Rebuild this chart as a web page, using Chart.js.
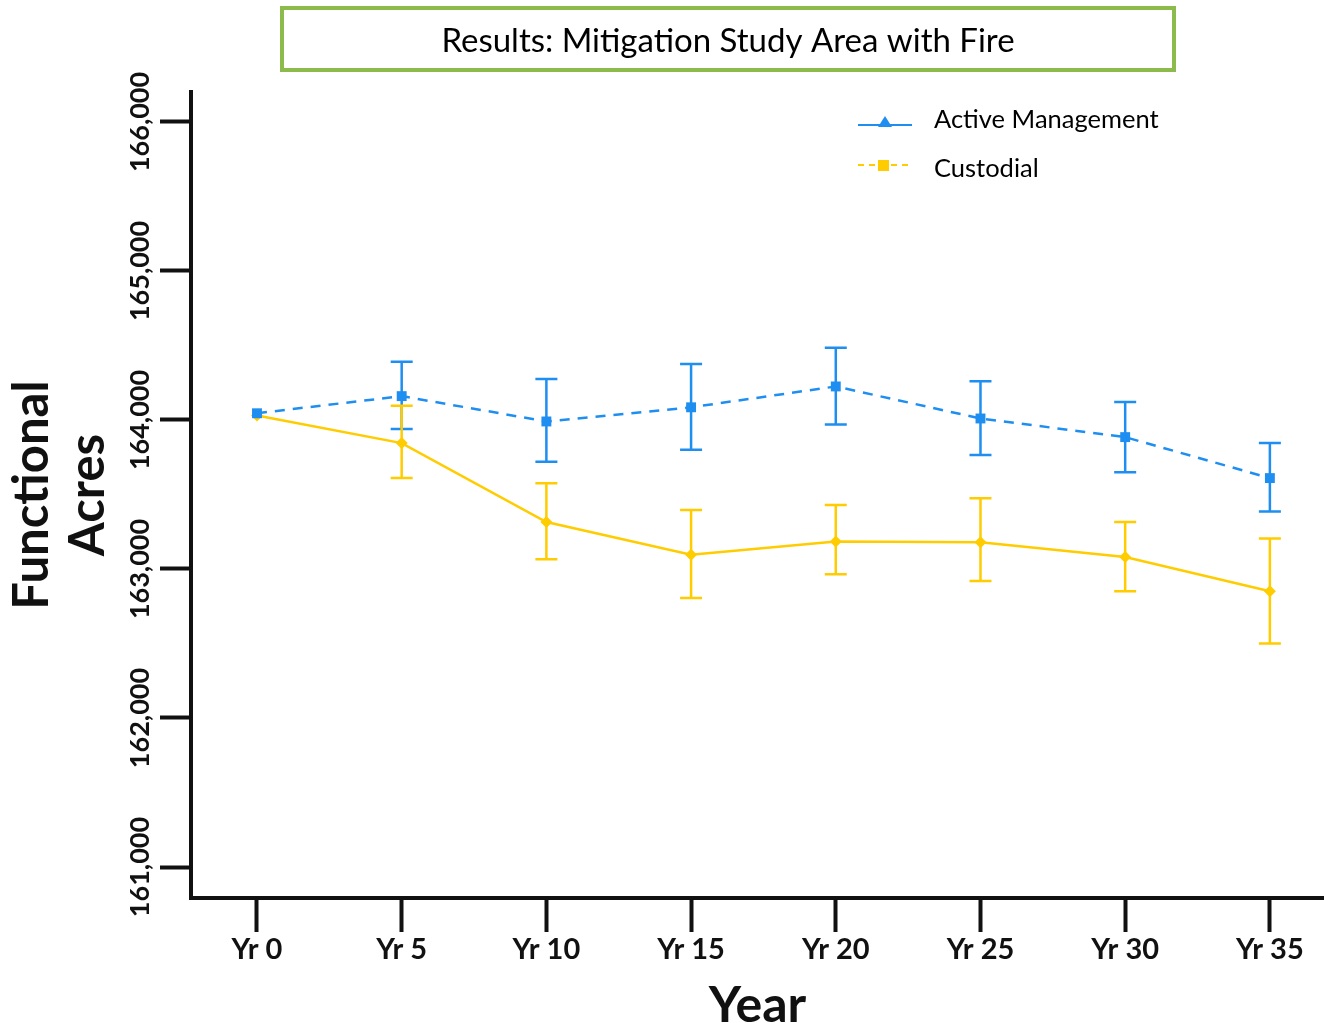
<!DOCTYPE html>
<html>
<head>
<meta charset="utf-8">
<script src="https://cdn.jsdelivr.net/npm/chart.js@4.4.0/dist/chart.umd.min.js"></script>
<style>
    html, body { margin: 0; padding: 0; background: #fff; }
    canvas { display: block; }
</style>
</head>
<body>
<canvas id="grafico" width="1324" height="1023"></canvas>
<script>
// dados
const years = [0, 5, 10, 15, 20, 25, 30, 35];
const yearLabels = ['Yr 0', 'Yr 5', 'Yr 10', 'Yr 15', 'Yr 20', 'Yr 25', 'Yr 30', 'Yr 35'];
const yTicks = [161000, 162000, 163000, 164000, 165000, 166000];

const activeMean = [164045, 164160, 163990, 164085, 164225, 164010, 163885, 163610];
const activeHigh = [164045, 164390, 164275, 164375, 164485, 164260, 164120, 163845];
const activeLow  = [164045, 163940, 163720, 163800, 163970, 163765, 163650, 163385];

const custodialMean = [164030, 163845, 163315, 163095, 163185, 163180, 163080, 162850];
const custodialHigh = [164030, 164095, 163575, 163395, 163430, 163475, 163315, 163205];
const custodialLow  = [164030, 163610, 163065, 162805, 162965, 162920, 162850, 162500];

const chartTitle = 'Results: Mitigation Study Area with Fire';
const legendLabels = ['Active Management', 'Custodial'];

const azul = '#1f8ef1';
const amarelo = '#ffcc00';
const verde = '#8cbb4c';
const preto = '#111';

const toPoints = (vals) => years.map((yr, i) => ({ x: yr, y: vals[i] }));

const errorBars = {
    id: 'errorBars',
    afterDatasetsDraw(chart) {
        const { ctx, scales: { x, y } } = chart;
        const sets = [
            [activeLow, activeHigh, azul],
            [custodialLow, custodialHigh, amarelo]
        ];
        ctx.save();
        ctx.lineWidth = 2.5;
        sets.forEach(([lo, hi, cor]) => {
            ctx.strokeStyle = cor;
            years.forEach((yr, i) => {
                if (lo[i] === hi[i]) return;
                const px = x.getPixelForValue(yr);
                const y1 = y.getPixelForValue(hi[i]);
                const y2 = y.getPixelForValue(lo[i]);
                ctx.beginPath();
                ctx.moveTo(px, y1); ctx.lineTo(px, y2);
                ctx.moveTo(px - 11, y1); ctx.lineTo(px + 11, y1);
                ctx.moveTo(px - 11, y2); ctx.lineTo(px + 11, y2);
                ctx.stroke();
            });
        });
        ctx.restore();
    }
};

const boxAndLegend = {
    id: 'boxAndLegend',
    afterDraw(chart) {
        const ctx = chart.ctx;
        ctx.save();
        // caixa do título
        ctx.strokeStyle = verde;
        ctx.lineWidth = 4;
        ctx.strokeRect(282, 8, 892, 62);
        ctx.fillStyle = '#000';
        ctx.font = '33px Lato';
        ctx.textAlign = 'center';
        ctx.textBaseline = 'middle';
        ctx.fillText(chartTitle, 728, 41);

        // legenda
        ctx.lineWidth = 2;
        ctx.strokeStyle = azul;
        ctx.beginPath();
        ctx.moveTo(858, 125); ctx.lineTo(912, 125);
        ctx.stroke();
        ctx.fillStyle = azul;
        ctx.beginPath();
        ctx.moveTo(885, 116); ctx.lineTo(892, 127); ctx.lineTo(878, 127);
        ctx.closePath();
        ctx.fill();

        ctx.strokeStyle = amarelo;
        ctx.setLineDash([6, 5]);
        ctx.beginPath();
        ctx.moveTo(858, 165); ctx.lineTo(912, 165);
        ctx.stroke();
        ctx.setLineDash([]);
        ctx.fillStyle = amarelo;
        ctx.fillRect(878, 160, 11, 11);

        ctx.fillStyle = '#000';
        ctx.font = '25.5px Lato';
        ctx.textAlign = 'left';
        ctx.fillText(legendLabels[0], 934, 120);
        ctx.fillText(legendLabels[1], 934, 169);
        ctx.restore();
    }
};

const ctx = document.getElementById('grafico').getContext('2d');
const grafico = new Chart(ctx, {
    type: 'line',
    data: {
        datasets: [{
            label: legendLabels[0],
            data: toPoints(activeMean),
            borderColor: azul,
            backgroundColor: azul,
            borderWidth: 2.5,
            borderDash: [10, 8],
            pointStyle: 'rect',
            pointRadius: 7,
            pointBorderWidth: 0,
            tension: 0
        },
        {
            label: legendLabels[1],
            data: toPoints(custodialMean),
            borderColor: amarelo,
            backgroundColor: amarelo,
            borderWidth: 2.5,
            pointStyle: 'rectRot',
            pointRadius: 6,
            pointBorderWidth: 0,
            tension: 0
        }]
    },
    options: {
        responsive: false,
        animation: false,
        devicePixelRatio: 1,
        layout: { autoPadding: false, padding: { top: 92, right: 0, bottom: 0, left: 0 } },
        plugins: {
            legend: { display: false },
            title: { display: false },
            tooltip: { enabled: false }
        },
        scales: {
            x: {
                type: 'linear',
                min: -2.28,
                max: 36.87,
                afterFit: (scale) => { scale.height = 125; },
                afterBuildTicks: (scale) => { scale.ticks = years.map(v => ({ value: v })); },
                grid: {
                    drawOnChartArea: false,
                    drawTicks: true,
                    tickLength: 34,
                    tickWidth: 4,
                    tickColor: preto
                },
                border: { display: true, color: preto, width: 4 },
                ticks: {
                    autoSkip: false,
                    maxRotation: 0,
                    padding: 0,
                    color: preto,
                    font: { family: 'Lato', size: 29, weight: 'bold' },
                    callback: (v) => yearLabels[years.indexOf(v)] ?? ''
                },
                title: {
                    display: true,
                    text: 'Year',
                    color: preto,
                    font: { family: 'Lato', size: 50, weight: 'bold', lineHeight: 1 },
                    padding: { top: 0, bottom: -8 }
                }
            },
            y: {
                min: 160792,
                max: 166201,
                afterFit: (scale) => { scale.width = 191; },
                afterBuildTicks: (scale) => { scale.ticks = yTicks.map(v => ({ value: v })); },
                grid: {
                    drawOnChartArea: false,
                    drawTicks: true,
                    tickLength: 31,
                    tickWidth: 4,
                    tickColor: preto
                },
                border: { display: true, color: preto, width: 4 },
                ticks: {
                    minRotation: 90,
                    maxRotation: 90,
                    crossAlign: 'center',
                    padding: -30,
                    color: preto,
                    font: { family: 'Lato', size: 27, weight: 'bold' },
                    callback: (v) => v.toLocaleString('en-US')
                },
                title: {
                    display: true,
                    text: ['Functional', 'Acres'],
                    color: preto,
                    font: { family: 'Lato', size: 49, weight: 'bold', lineHeight: 1.13 },
                    padding: { top: 5, bottom: 0 }
                }
            }
        }
    },
    plugins: [errorBars, boxAndLegend]
});
</script>
</body>
</html>
